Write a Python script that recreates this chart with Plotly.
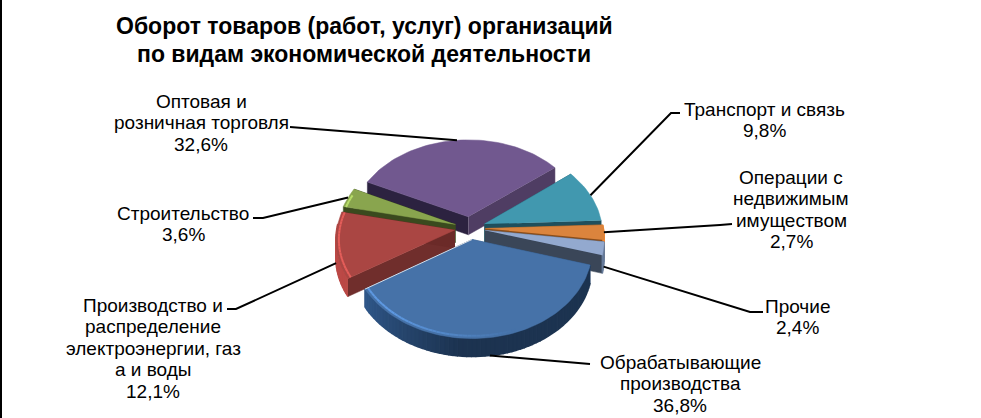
import math
import plotly.graph_objects as go

categories = ["Обрабатывающие производства", "Производство и распределение электроэнергии, газа и воды",
              "Строительство", "Оптовая и розничная торговля", "Транспорт и связь",
              "Операции с недвижимым имуществом", "Прочие"]
values = [36.8, 12.1, 3.6, 32.6, 9.8, 2.7, 2.4]
label_lines = [["Обрабатывающие", "производства", "36,8%"],
               ["Производство и", "распределение", "электроэнергии, газ", "а и воды", "12,1%"],
               ["Строительство", "3,6%"],
               ["Оптовая и", "розничная торговля", "32,6%"],
               ["Транспорт и связь", "9,8%"],
               ["Операции с", "недвижимым", "имуществом", "2,7%"],
               ["Прочие", "2,4%"]]
title_lines = ["Оборот товаров (работ, услуг) организаций", "по видам экономической деятельности"]
top_colors = ["#4672A8", "#AA4643", "#89A54E", "#71588F", "#4198AF", "#DB843D", "#93A9CF"]
wall_colors = ["#1C3350", "#6B2A28", "#3A4A1E", "#4F3D63", "#1F4F5C", "#8A4E1C", "#3A4658"]
side_colors = ["#2C4E76", "#702E2C", "#3A4A1E", "#2C2240", "#1F4F5C", "#8A4E1C", "#3A4658"]
draw_order = [3, 2, 4, 5, 6, 1, 0]
label_pos = [(680, 362), (153, 305), (183, 213), (201, 101), (764, 109), (791, 177), (797, 306)]
leader_from = [[(590, 364)], [(227, 309), (236, 309)], [(253, 218), (263, 218)], [(290, 127)],
               [(680, 113), (671, 113)], [(732, 224), (720, 225)], [(763, 312), (750, 312)]]

START = 16.0
CX, CY, A, B, K, EXPLODE, DEPTH = 470, 228, 118, 88, 0.1, 0.13, 18
LINE_STEP = 21.5
TITLE_STEP = 28


def project(X, Y, drop=0):
    p = 1 + K * Y
    return CX + A * X * p, CY + B * Y * p + drop


def shade(hexc, f):
    r, g, b = int(hexc[1:3], 16), int(hexc[3:5], 16), int(hexc[5:7], 16)
    return "rgb(%d,%d,%d)" % tuple(min(255, int(c * f)) for c in (r, g, b))


fig = go.Figure()


def poly(pts, color, width=0.5):
    fig.add_trace(go.Scatter(x=[p[0] for p in pts], y=[p[1] for p in pts], mode="lines", fill="toself",
                             fillcolor=color, line=dict(color=color, width=width),
                             hoverinfo="skip", showlegend=False))


def path(pts, color, width):
    fig.add_trace(go.Scatter(x=[p[0] for p in pts], y=[p[1] for p in pts], mode="lines",
                             line=dict(color=color, width=width), hoverinfo="skip", showlegend=False))


slices = []
a0 = START
total = sum(values)
for v in values:
    a1 = a0 + v / total * 360
    slices.append((a0, a1))
    a0 = a1

for i in draw_order:
    a0, a1 = slices[i]
    mid = math.radians((a0 + a1) / 2)
    ox, oy = EXPLODE * math.cos(mid), EXPLODE * math.sin(mid)
    n = max(6, int((a1 - a0) / 2))
    deg = [a0 + (a1 - a0) * j / n for j in range(n + 1)]
    ang = [math.radians(d) for d in deg]
    rim = [(ox + math.cos(t), oy + math.sin(t)) for t in ang]
    tip = project(ox, oy)
    tip_d = project(ox, oy, DEPTH)
    first, last = project(*rim[0]), project(*rim[-1])
    first_d, last_d = project(*rim[0], DEPTH), project(*rim[-1], DEPTH)
    poly([tip, first, first_d, tip_d], side_colors[i])
    poly([tip, last, last_d, tip_d], wall_colors[i])
    # outer wall, shaded along the arc: lighter toward the left, darkest at the front right
    for j in range(n):
        d = (deg[j] + deg[j + 1]) / 2
        if math.sin(math.radians(d)) < -0.05:
            continue
        f = 1.0 + 0.75 * max(0.0, min(1.0, (d - 95) / 55))
        poly([project(*rim[j]), project(*rim[j + 1]), project(*rim[j + 1], DEPTH), project(*rim[j], DEPTH)],
             shade(wall_colors[i], f), 1.5)
    poly([tip] + [project(*r) for r in rim], top_colors[i])
    # bevel highlight, fading out toward the right of the front
    for j in range(n):
        d = (deg[j] + deg[j + 1]) / 2
        if 70 < d < 200:
            f = 1.0 + 0.35 * min(1.0, (d - 70) / 60)
            seg = [(ox + 0.975 * math.cos(ang[k]), oy + 0.975 * math.sin(ang[k])) for k in (j, j + 1)]
            path([project(*s) for s in seg], shade(top_colors[i], f), 2)
    if i == 0:
        path([tip, last], "#D5DEE9", 1)

# leader lines run from the label side to the rim of the slice
for i, (a0, a1) in enumerate(slices):
    mid = math.radians((a0 + a1) / 2)
    X, Y = (1 + EXPLODE) * math.cos(mid), (1 + EXPLODE) * math.sin(mid)
    end = project(X, Y, DEPTH if math.sin(mid) > 0.1 else 0)
    path(leader_from[i] + [end], "black", 2)

annotations = []
for (x, y), lines in zip(label_pos, label_lines):
    for k, t in enumerate(lines):
        annotations.append(dict(x=x, y=y + k * LINE_STEP, text=t, showarrow=False, xanchor="center",
                                yanchor="middle", font=dict(family="Liberation Sans", size=19, color="black")))
for k, t in enumerate(title_lines):
    annotations.append(dict(x=364, y=26 + k * TITLE_STEP, text=f"<b>{t}</b>", showarrow=False, xanchor="center",
                            yanchor="middle", font=dict(family="Liberation Sans", size=23, color="black")))

fig.update_layout(width=981, height=418, margin=dict(l=0, r=0, t=0, b=0), autosize=False,
                  paper_bgcolor="white", plot_bgcolor="white", showlegend=False,
                  annotations=annotations,
                  xaxis=dict(range=[0, 981], visible=False, fixedrange=True),
                  yaxis=dict(range=[418, 0], visible=False, fixedrange=True),
                  shapes=[dict(type="line", x0=1, x1=1, y0=0, y1=418, line=dict(color="black", width=2))])
fig.write_html("out.html", config={"displayModeBar": False},
               post_script="document.body.style.margin='0';document.documentElement.style.overflow='hidden';")
